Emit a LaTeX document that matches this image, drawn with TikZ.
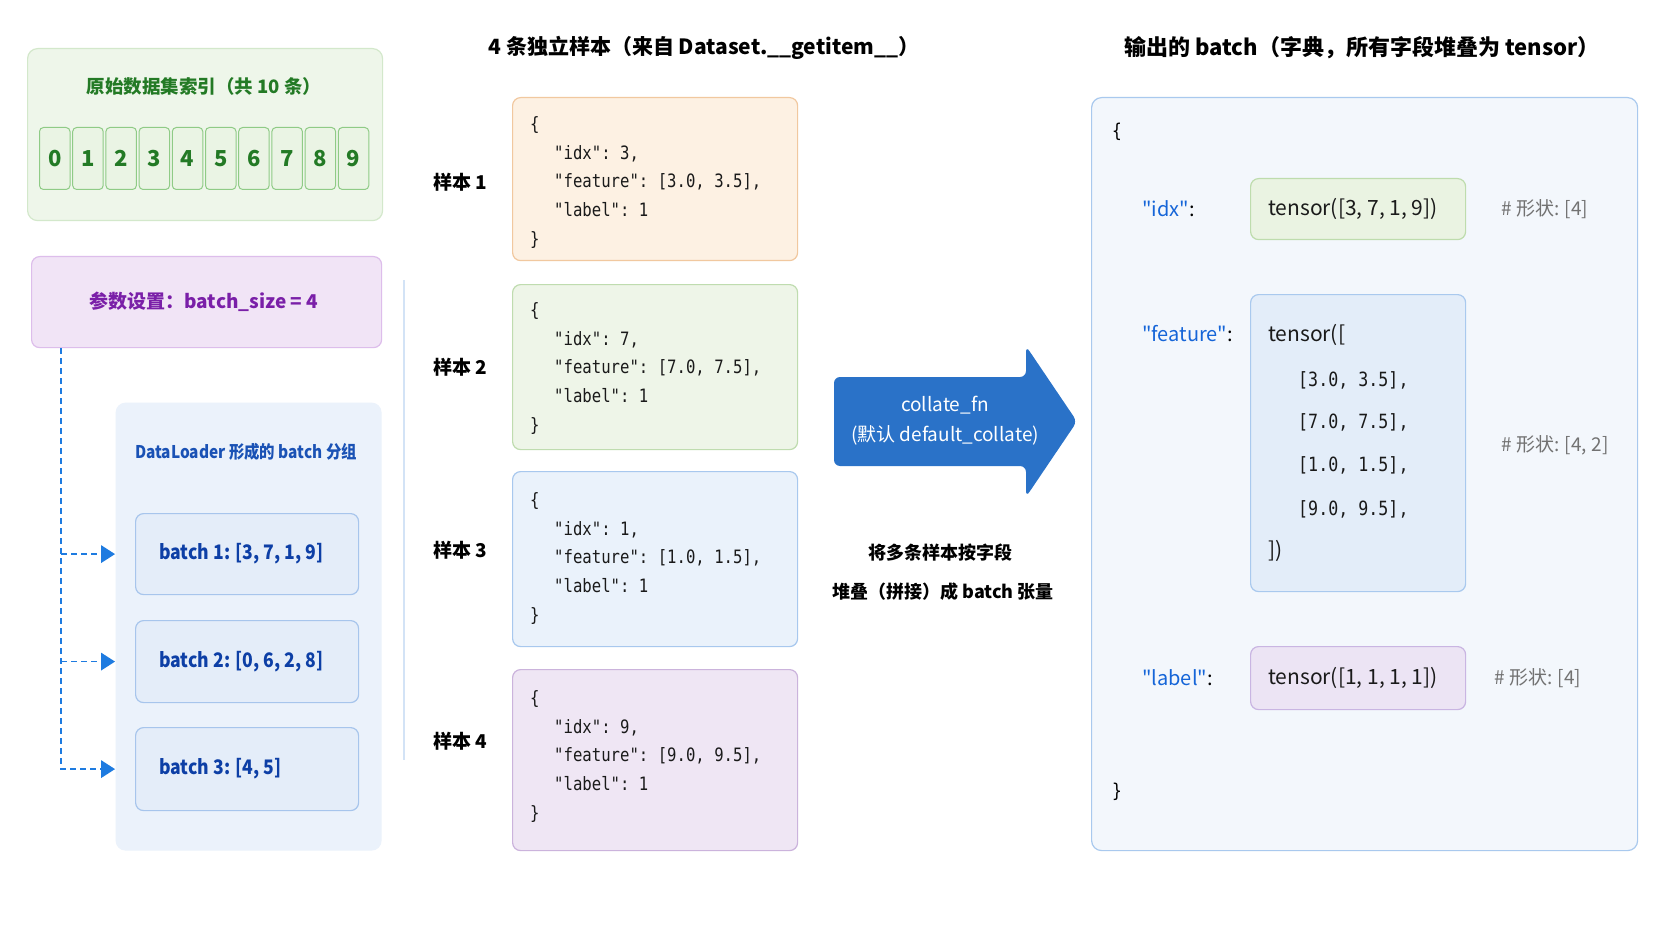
\documentclass[tikz,border=0pt]{standalone}
\usepackage{fontspec}
\setmainfont{Noto Sans CJK SC}[Ligatures=TeXOff]
\setmonofont{DejaVu Sans Mono}[FakeStretch=0.85]
\newfontfamily\condfont{Noto Sans CJK SC}[FakeStretch=0.88, Ligatures=TeXOff]
\usetikzlibrary{arrows.meta,calc}
\newcommand\myfs[1]{\fontsize{#1}{#1}\selectfont}
\definecolor{gfill}{HTML}{EEF6EA}
\definecolor{gborder}{HTML}{D3E8CB}
\definecolor{gcell}{HTML}{EAF4E4}
\definecolor{gcellb}{HTML}{8FCB86}
\definecolor{gtext}{HTML}{237A25}
\definecolor{pfill}{HTML}{F1E4F6}
\definecolor{pborder}{HTML}{DDBDEB}
\definecolor{ptext}{HTML}{7A1FA8}
\definecolor{dlfill}{HTML}{EBF2FB}
\definecolor{dltext}{HTML}{1A52B5}
\definecolor{bfill}{HTML}{E4EDF9}
\definecolor{bborder}{HTML}{A7C5EC}
\definecolor{btext}{HTML}{0D3FA6}
\definecolor{dashblue}{HTML}{1E7BE0}
\definecolor{sepblue}{HTML}{D3E3F6}
\definecolor{s1fill}{HTML}{FDF1E3}
\definecolor{s1border}{HTML}{F1C89F}
\definecolor{s2fill}{HTML}{EEF5E8}
\definecolor{s2border}{HTML}{BFDCAF}
\definecolor{s3fill}{HTML}{EAF2FB}
\definecolor{s3border}{HTML}{A8C8EE}
\definecolor{s4fill}{HTML}{EFE6F4}
\definecolor{s4border}{HTML}{CBB3DC}
\definecolor{arrowblue}{HTML}{2A72C8}
\definecolor{outfill}{HTML}{F3F7FC}
\definecolor{outborder}{HTML}{A9C9EE}
\definecolor{keyblue}{HTML}{1565D8}
\definecolor{cmtgray}{HTML}{727272}
\definecolor{tidxfill}{HTML}{EAF3E2}
\definecolor{tidxborder}{HTML}{BEDCAD}
\definecolor{tfeafill}{HTML}{E3EDF9}
\definecolor{tlabfill}{HTML}{ECE4F4}
\definecolor{tlabborder}{HTML}{C9B5E2}
\definecolor{codeblack}{HTML}{1A1A1A}
\begin{document}
\begin{tikzpicture}[x=1pt,y=-1pt,
  box/.style={draw, rounded corners=8pt, inner sep=0pt, anchor=north west, line width=1.2pt},
  cell/.style={draw=gcellb, fill=gcell, rounded corners=4pt, inner sep=0pt, anchor=north west,
    minimum width=30.5pt, minimum height=62pt, line width=1pt, text=gtext, font=\bfseries\myfs{22}},
  code/.style={inner sep=0pt, anchor=north west, align=left, text=codeblack, font=\ttfamily\fontsize{18.4}{28.9}\selectfont},
  title/.style={font=\bfseries\myfs{21}, inner sep=0pt},
  slabel/.style={font=\bfseries\myfs{19}, inner sep=0pt},
  batchbox/.style={box, draw=bborder, fill=bfill, minimum width=223pt},
  batchtxt/.style={anchor=west, inner sep=0pt, text=btext, font=\condfont\bfseries\myfs{20}},
  dasharrow/.style={dashblue, dash pattern=on 6pt off 4pt, line width=1.3pt},
  key/.style={anchor=west, inner sep=0pt, font=\myfs{20}},
  tens/.style={anchor=west, inner sep=0pt, text=codeblack, font=\myfs{21}},
  rows/.style={anchor=west, inner sep=0pt, text=codeblack, font=\ttfamily\myfs{19.6}},
  cmt/.style={anchor=west, inner sep=0pt, text=cmtgray, font=\myfs{19}},
  brace/.style={inner sep=0pt, font=\ttfamily\myfs{19}}
]
\useasboundingbox[fill=white] (0,0) rectangle (1672,941);

% ---------- left: index panel ----------
\node[box, draw=gborder, fill=gfill, rounded corners=10pt, minimum width=355pt, minimum height=172pt] (idxpanel) at (27,48) {};
\node[inner sep=0pt, text=gtext, font=\bfseries\myfs{18.5}] (idxtitle) at (204,86) {原始数据集索引（共 10 条）};
\foreach \i in {0,...,9} {
  \node[cell] (c\i) at ({39+33.2*\i},127) {\i};
}

% ---------- parameter box ----------
\node[box, draw=pborder, fill=pfill, minimum width=350pt, minimum height=91pt] (param) at (31,256) {};
\node[inner sep=0pt, text=ptext, font=\bfseries\myfs{19}] (paramtxt) at (204,302) {参数设置：batch\_size = 4};

% ---------- DataLoader groups ----------
\node[box, draw=none, fill=dlfill, rounded corners=10pt, minimum width=266pt, minimum height=448pt] (dl) at (115,402) {};
\node[inner sep=0pt, text=dltext, font=\condfont\bfseries\myfs{17.5}] (dltitle) at (246,452) {DataLoader 形成的 batch 分组};
\node[batchbox, minimum height=81pt] (b1) at (135,513) {};
\node[batchbox, minimum height=82pt] (b2) at (135,620) {};
\node[batchbox, minimum height=83pt] (b3) at (135,727) {};
\node[batchtxt] (b1t) at ($(b1.west)+(24,0)$) {batch 1: [3, 7, 1, 9]};
\node[batchtxt] (b2t) at ($(b2.west)+(24,0)$) {batch 2: [0, 6, 2, 8]};
\node[batchtxt] (b3t) at ($(b3.west)+(24,0)$) {batch 3: [4, 5]};

\coordinate (trunk) at (param.south -| 61,0);
\coordinate (tip1) at (dl.west |- b1.center);
\coordinate (tip2) at (dl.west |- b2.center);
\coordinate (tip3) at (dl.west |- b3.center);
\draw[dasharrow] (trunk) |- ($(tip3)+(-12,0)$);
\draw[dasharrow] (trunk |- tip1) -- ($(tip1)+(-12,0)$);
\draw[dasharrow] (trunk |- tip2) -- ($(tip2)+(-12,0)$);
\foreach \t in {tip1,tip2,tip3} {
  \fill[dashblue] (\t) -- ++(-14,-9) -- ++(0,18) -- cycle;
}

% separator
\draw[sepblue, line width=1.5pt] (404,280) -- (404,760);

% ---------- middle: samples ----------
\node[title] (midtitle) at (704,48) {4 条独立样本（来自 Dataset.\_\_getitem\_\_）};

\node[box, draw=s1border, fill=s1fill, minimum width=285pt, minimum height=163pt] (s1) at (512,97) {};
\node[box, draw=s2border, fill=s2fill, minimum width=285pt, minimum height=165pt] (s2) at (512,284) {};
\node[box, draw=s3border, fill=s3fill, minimum width=285pt, minimum height=175pt] (s3) at (512,471) {};
\node[box, draw=s4border, fill=s4fill, minimum width=285pt, minimum height=181pt] (s4) at (512,669) {};

\node[code] (s1c) at (530,116) {\{\\\hspace*{24pt}"idx": 3,\\\hspace*{24pt}"feature": [3.0, 3.5],\\\hspace*{24pt}"label": 1\\\}};
\node[code] (s2c) at (530,302) {\{\\\hspace*{24pt}"idx": 7,\\\hspace*{24pt}"feature": [7.0, 7.5],\\\hspace*{24pt}"label": 1\\\}};
\node[code] (s3c) at (530,492) {\{\\\hspace*{24pt}"idx": 1,\\\hspace*{24pt}"feature": [1.0, 1.5],\\\hspace*{24pt}"label": 1\\\}};
\node[code] (s4c) at (530,690) {\{\\\hspace*{24pt}"idx": 9,\\\hspace*{24pt}"feature": [9.0, 9.5],\\\hspace*{24pt}"label": 1\\\}};

\node[slabel] (l1) at (460,182) {样本 1};
\node[slabel] (l2) at (460,367) {样本 2};
\node[slabel] (l3) at (460,550) {样本 3};
\node[slabel] (l4) at (460,741) {样本 4};

% ---------- collate arrow ----------
\fill[arrowblue, rounded corners=6pt] (834,377) -- (1026,377) -- (1026,346) -- (1077,421.5) -- (1026,497) -- (1026,466) -- (834,466) -- cycle;
\node[inner sep=0pt, text=white, font=\myfs{19}] (coll1) at (945,405) {collate\_fn};
\node[inner sep=0pt, text=white, font=\myfs{19}] (coll2) at (945,435) {(默认 default\_collate)};
\node[inner sep=0pt, font=\bfseries\myfs{18}] (desc1) at (940,553) {将多条样本按字段};
\node[inner sep=0pt, font=\bfseries\myfs{18}] (desc2) at (943,592) {堆叠（拼接）成 batch 张量};

% ---------- right: output batch ----------
\node[title, font=\bfseries\myfs{22}] (righttitle) at (1362,48) {输出的 batch（字典，所有字段堆叠为 tensor）};
\node[box, draw=outborder, fill=outfill, rounded corners=10pt, minimum width=546pt, minimum height=753pt] (out) at (1091,97) {};
\node[brace] (ob) at (1117,132) {\{};
\node[brace] (cb) at (1117,792) {\}};

\node[key] (kidx) at (1142,209) {\textcolor{keyblue}{"idx"}:};
\node[key] (kfea) at (1142,334) {\textcolor{keyblue}{"feature"}:};
\node[key] (klab) at (1142,678) {\textcolor{keyblue}{"label"}:};

\node[box, draw=tidxborder, fill=tidxfill, minimum width=215pt, minimum height=61pt] (tidx) at (1250,178) {};
\node[box, draw=outborder, fill=tfeafill, minimum width=215pt, minimum height=297pt] (tfea) at (1250,294) {};
\node[box, draw=tlabborder, fill=tlabfill, minimum width=215pt, minimum height=63pt] (tlab) at (1250,646) {};

\node[tens] (tidxt) at (1268,209) {tensor([3, 7, 1, 9])};
\node[tens] (tlabt) at (1268,678) {tensor([1, 1, 1, 1])};
\node[tens] (tfea0) at (1268,335) {tensor([};
\node[rows] (tfea1) at (1298,380) {[3.0, 3.5],};
\node[rows] (tfea2) at (1298,422) {[7.0, 7.5],};
\node[rows] (tfea3) at (1298,465) {[1.0, 1.5],};
\node[rows] (tfea4) at (1298,509) {[9.0, 9.5],};
\node[tens] (tfea5) at (1268,551) {])};

\node[cmt] (cidx) at (1501,209) {\# 形状: [4]};
\node[cmt] (cfea) at (1501,445) {\# 形状: [4, 2]};
\node[cmt] (clab) at (1494,678) {\# 形状: [4]};
\end{tikzpicture}
\end{document}
